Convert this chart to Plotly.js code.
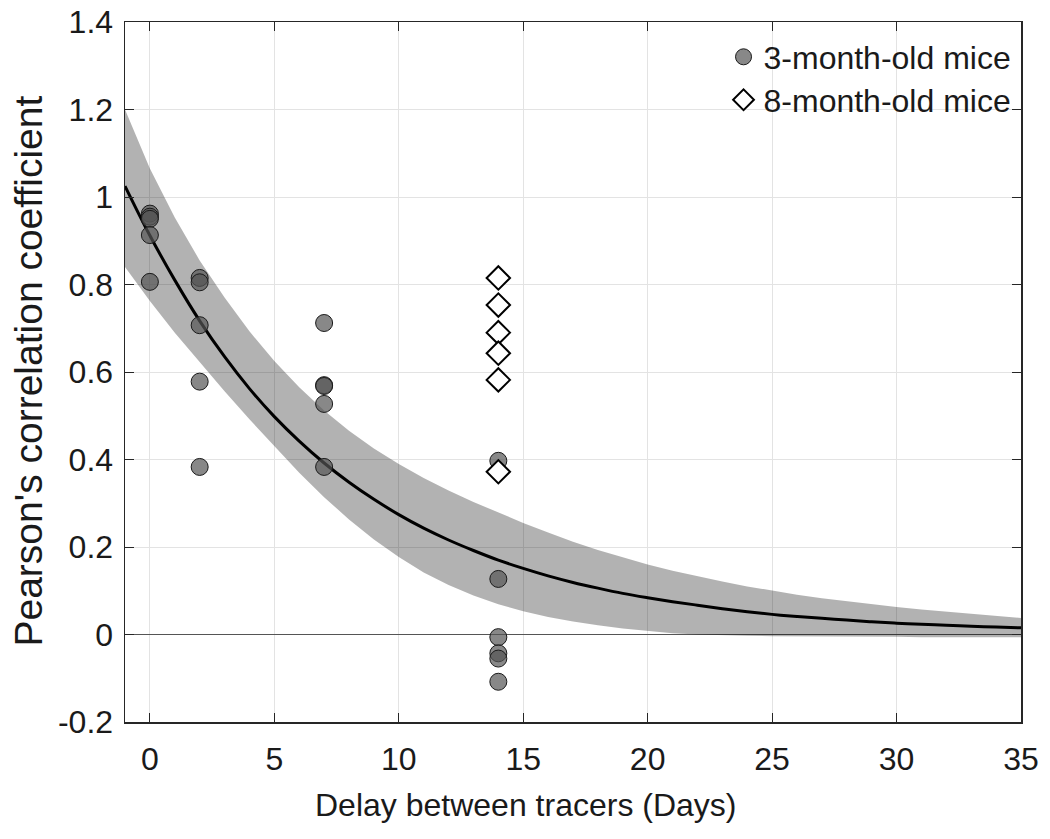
<!DOCTYPE html>
<html><head><meta charset="utf-8">
<script src="https://cdn.plot.ly/plotly-3.0.1.min.js"></script>
<style>html,body{margin:0;padding:0;background:#fff}#chart{width:1050px;height:839px}</style>
</head><body><div id="chart"></div>
<script>
// 3-month-old mice
const youngX = [0,0,0,0,0, 2,2,2,2,2, 7,7,7,7,7, 14,14,14,14,14,14];
const youngY = [0.962,0.955,0.950,0.913,0.806, 0.815,0.805,0.707,0.578,0.383, 0.712,0.570,0.568,0.527,0.383, 0.397,0.127,-0.006,-0.043,-0.055,-0.108];
// 8-month-old mice
const oldX = [14,14,14,14,14,14];
const oldY = [0.815,0.753,0.690,0.643,0.582,0.372];
// exponential fit and confidence band
const fitX = [-1,0,1,2,3,4,5,6,7,8,9,10,11,12,13,14,15,16,17,18,19,20,21,22,23,24,25,26,27,28,29,30,31,32,33,34,35];
const fitY = [1.025,0.912,0.810,0.717,0.635,0.562,0.498,0.442,0.392,0.348,0.309,0.274,0.243,0.216,0.192,0.170,0.151,0.134,0.119,0.106,0.094,0.084,0.075,0.067,0.059,0.052,0.046,0.041,0.037,0.033,0.029,0.026,0.0235,0.021,0.019,0.017,0.0152];
const bandUpper = [1.200,1.065,0.953,0.855,0.770,0.693,0.625,0.565,0.512,0.466,0.425,0.390,0.358,0.329,0.303,0.279,0.255,0.233,0.212,0.193,0.176,0.160,0.146,0.133,0.121,0.110,0.100,0.091,0.083,0.076,0.069,0.063,0.057,0.052,0.047,0.042,0.038];
const bandLower = [0.840,0.762,0.690,0.622,0.556,0.492,0.430,0.370,0.314,0.263,0.217,0.177,0.142,0.113,0.089,0.069,0.053,0.040,0.030,0.021,0.014,0.008,0.003,0.000,-0.002,-0.003,-0.004,-0.004,-0.005,-0.005,-0.005,-0.005,-0.006,-0.006,-0.006,-0.006,-0.006];
// ticks
const xTickVals = [0,5,10,15,20,25,30,35];
const xTickText = ['0','5','10','15','20','25','30','35'];
const yTickVals = [-0.2,0,0.2,0.4,0.6,0.8,1,1.2,1.4];
const yTickText = ['-0.2','0','0.2','0.4','0.6','0.8','1','1.2','1.4'];
const xTitle = 'Delay between tracers (Days)';
const yTitle = "Pearson's correlation coefficient";

const REG = "'Liberation Sans', Arial, Helvetica, sans-serif";
const TXT = '#1a1a1a';
const traces = [
  {x: fitX, y: bandLower, mode: 'lines', line: {width: 0, color: 'rgba(0,0,0,0)'}, showlegend: false, hoverinfo: 'skip'},
  {x: fitX, y: bandUpper, mode: 'lines', line: {width: 0, color: 'rgba(0,0,0,0)'}, fill: 'tonexty', fillcolor: 'rgba(0,0,0,0.30)', showlegend: false, hoverinfo: 'skip'},
  {x: fitX, y: fitY, mode: 'lines', line: {width: 3, color: '#000', shape: 'spline'}, showlegend: false},
  {x: youngX, y: youngY, mode: 'markers', name: '3-month-old mice', legend: 'legend',
   marker: {symbol: 'circle', size: 17, color: 'rgba(85,85,85,0.7)', line: {color: '#1a1a1a', width: 1}}},
  {x: oldX, y: oldY, mode: 'markers', name: '8-month-old mice', legend: 'legend2',
   marker: {symbol: 'diamond', size: 18, color: '#fff', line: {color: '#000', width: 2}}}
];
const axisCommon = {
  showgrid: true, gridcolor: '#e3e3e3', gridwidth: 1,
  showline: true, linecolor: '#262626', linewidth: 1.5, mirror: 'ticks',
  ticks: 'inside', ticklen: 9, tickcolor: '#262626', tickwidth: 1,
  tickfont: {family: REG, size: 32, color: TXT}, automargin: false
};
const legendCommon = {xanchor: 'left', yanchor: 'middle', bgcolor: 'rgba(0,0,0,0)',
  font: {family: REG, size: 32, color: TXT}, borderwidth: 0, traceorder: 'normal'};
const layout = {
  width: 1050, height: 839,
  margin: {l: 125, r: 29, t: 22, b: 117},
  paper_bgcolor: '#fff', plot_bgcolor: '#fff',
  font: {family: REG, color: TXT},
  xaxis: Object.assign({}, axisCommon, {
    range: [-1, 35], tickvals: xTickVals, ticktext: xTickText, zeroline: false, ticklabelstandoff: 8
  }),
  yaxis: Object.assign({}, axisCommon, {
    range: [-0.2, 1.4], tickvals: yTickVals, ticktext: yTickText, ticklabelstandoff: 4,
    zeroline: true, zerolinecolor: '#555555', zerolinewidth: 1.5
  }),
  legend: Object.assign({}, legendCommon, {x: 0.668, y: 0.95}),
  legend2: Object.assign({}, legendCommon, {x: 0.668, y: 0.8886}),
  showlegend: true,
  annotations: [
    {text: xTitle, xref: 'paper', yref: 'paper', x: 0.4475, y: -0.1186, xanchor: 'center', yanchor: 'middle',
     showarrow: false, font: {family: REG, size: 32, color: TXT}},
    {text: yTitle, xref: 'paper', yref: 'paper', x: -0.108, y: 0.501, xanchor: 'center', yanchor: 'middle',
     textangle: -90, showarrow: false, font: {family: REG, size: 39, color: TXT}}
  ]
};
Plotly.newPlot('chart', traces, layout, {displayModeBar: false, staticPlot: true});
</script></body></html>
